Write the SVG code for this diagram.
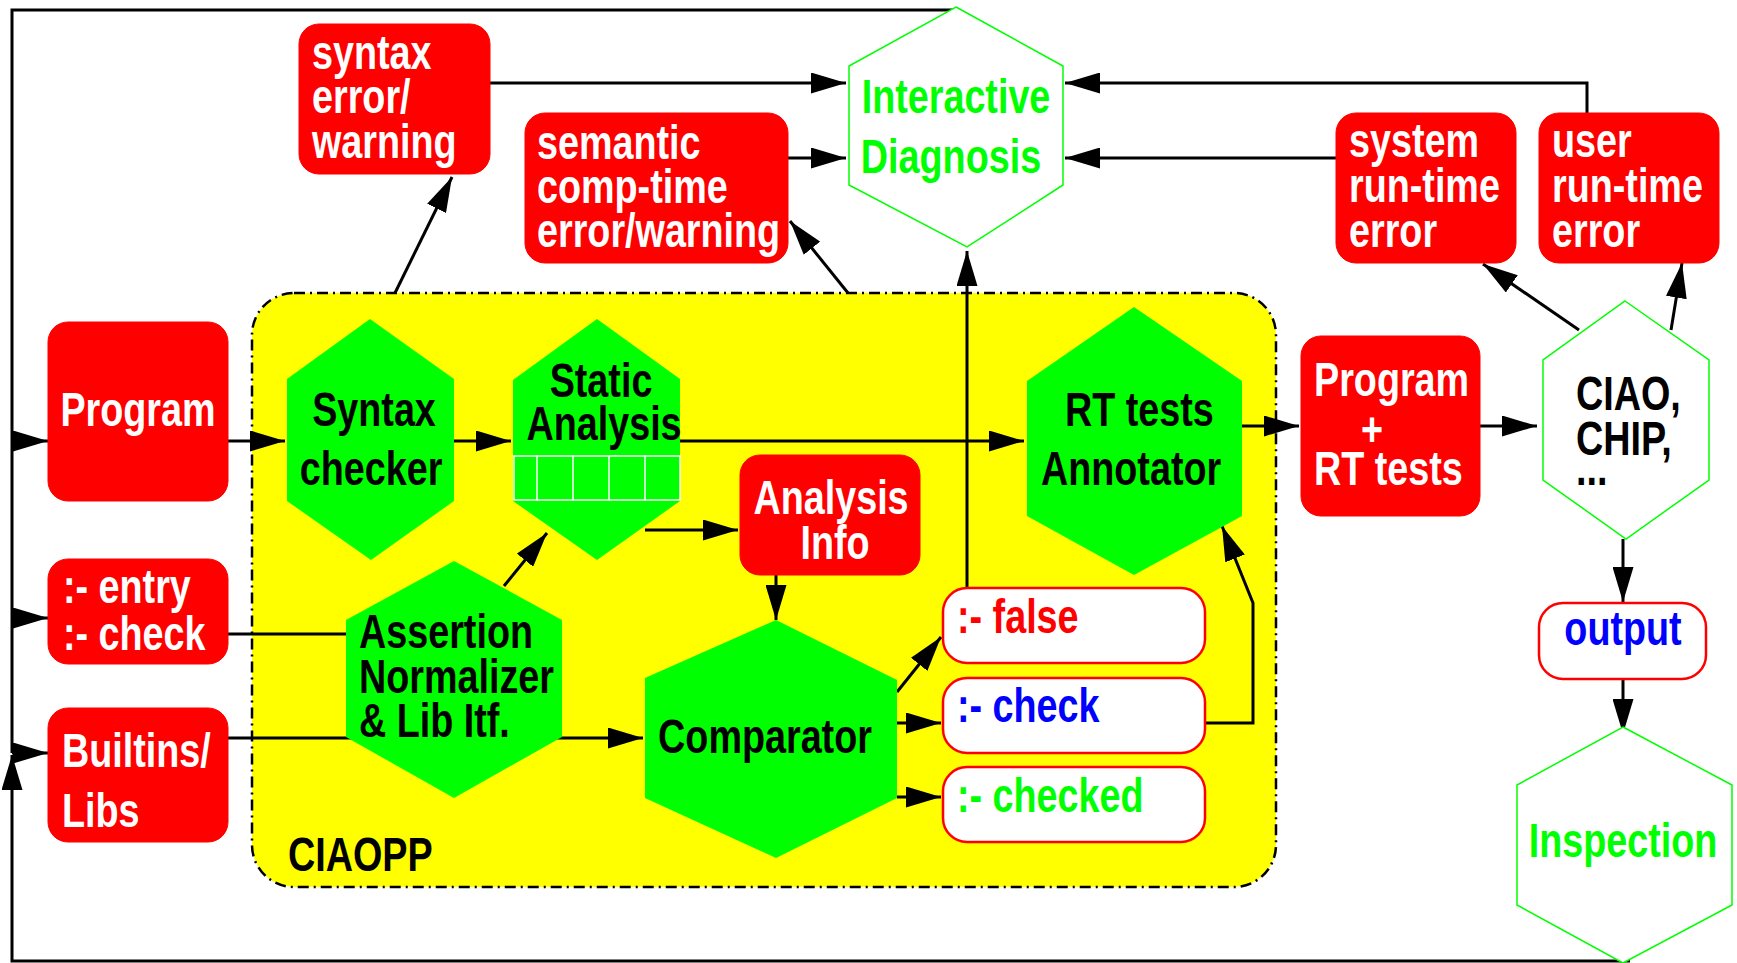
<svg xmlns="http://www.w3.org/2000/svg" width="1737" height="963" viewBox="0 0 1737 963">
<style>
.t{font-family:"Liberation Sans",Arial,sans-serif;font-weight:bold;font-size:49px}
.m{text-anchor:middle}
.w{fill:#ffffff}
.k{fill:#000000}
.g{fill:#00ff00}
.r{fill:#ff0000}
.b{fill:#0000ff}
.rbox{fill:#ff0000;stroke:#ff0000;stroke-width:1}
.obox{fill:#ffffff;stroke:#ff0000;stroke-width:2.5}
.ghex{fill:#00ff00;stroke:none}
.whex{fill:#ffffff;stroke:#00ff00;stroke-width:1.5}
.c{fill:none;stroke:#000000;stroke-width:3}
.ca{fill:none;stroke:#000000;stroke-width:3;marker-end:url(#ah)}
</style>
<defs>
<marker id="ah" markerUnits="userSpaceOnUse" viewBox="0 0 35 21" refX="35" refY="10.5" markerWidth="35" markerHeight="21" orient="auto">
<polygon points="0,0 35,10.5 0,21" fill="#000000"/>
</marker>
</defs>
<rect width="1737" height="963" fill="#ffffff"/>

<g id="ciaopp">
<rect x="252" y="293" width="1024" height="594" rx="42" ry="42" fill="#ffff00" stroke="#000000" stroke-width="2.5" stroke-dasharray="11 5 2 5"/>
<text class="t k" transform="translate(288 871) scale(0.77 1)">CIAOPP</text>
</g>

<g id="connectors">
<polyline class="c" points="956,10 12,10 12,753"/>
<line class="ca" x1="12" y1="441" x2="48" y2="441"/>
<line class="ca" x1="12" y1="618" x2="48" y2="618"/>
<line class="ca" x1="12" y1="753" x2="48" y2="753"/>
<polyline class="ca" points="1630,961 12,961 12,755"/>
<line class="ca" x1="228" y1="441" x2="285" y2="441"/>
<line class="ca" x1="454" y1="441" x2="511" y2="441"/>
<line class="ca" x1="680" y1="441" x2="1024" y2="441"/>
<line class="ca" x1="645" y1="530" x2="738" y2="530"/>
<line class="ca" x1="776" y1="575" x2="776" y2="620"/>
<line class="ca" x1="504" y1="586" x2="547" y2="533"/>
<line class="c" x1="228" y1="634" x2="346" y2="634"/>
<line class="ca" x1="228" y1="738" x2="643" y2="738"/>
<line class="ca" x1="897" y1="692" x2="941" y2="637"/>
<line class="ca" x1="897" y1="723" x2="941" y2="723"/>
<line class="ca" x1="897" y1="797" x2="941" y2="797"/>
<line class="ca" x1="967" y1="588" x2="967" y2="251"/>
<polyline class="ca" points="1205,723 1253,723 1253,603 1222,526"/>
<line class="ca" x1="1242" y1="426" x2="1299" y2="426"/>
<line class="ca" x1="1480" y1="426" x2="1537" y2="426"/>
<line class="ca" x1="1579" y1="330" x2="1483" y2="264"/>
<line class="ca" x1="1671" y1="330" x2="1682" y2="263"/>
<line class="ca" x1="1623" y1="539" x2="1623" y2="602"/>
<line class="ca" x1="1623" y1="679" x2="1623" y2="734"/>
<line class="ca" x1="490" y1="83" x2="846" y2="83"/>
<line class="ca" x1="788" y1="158" x2="846" y2="158"/>
<polyline class="ca" points="1587,113 1587,83 1065,83"/>
<line class="ca" x1="1336" y1="158" x2="1065" y2="158"/>
<line class="ca" x1="395" y1="293" x2="452" y2="177"/>
<line class="ca" x1="848" y1="293" x2="790" y2="221"/>
</g>

<g id="syntax-error">
<rect class="rbox" x="299" y="24" width="191" height="150" rx="20"/>
<text class="t w" transform="translate(312 69) scale(0.77 1)">syntax</text>
<text class="t w" transform="translate(312 113) scale(0.77 1)">error/</text>
<text class="t w" transform="translate(312 158) scale(0.77 1)">warning</text>
</g>

<g id="semantic-error">
<rect class="rbox" x="525" y="113" width="263" height="150" rx="20"/>
<text class="t w" transform="translate(537 159) scale(0.77 1)">semantic</text>
<text class="t w" transform="translate(537 203) scale(0.77 1)">comp-time</text>
<text class="t w" transform="translate(537 247) scale(0.77 1)">error/warning</text>
</g>

<g id="interactive-diagnosis">
<polygon class="whex" points="956,7 1063,66 1063,185 967,247 849,185 849,66"/>
<text class="t g m" transform="translate(956 113) scale(0.77 1)">Interactive</text>
<text class="t g m" transform="translate(951 173) scale(0.77 1)">Diagnosis</text>
</g>

<g id="system-error">
<rect class="rbox" x="1336" y="113" width="180" height="150" rx="20"/>
<text class="t w" transform="translate(1349 157) scale(0.77 1)">system</text>
<text class="t w" transform="translate(1349 202) scale(0.77 1)">run-time</text>
<text class="t w" transform="translate(1349 247) scale(0.77 1)">error</text>
</g>

<g id="user-error">
<rect class="rbox" x="1539" y="113" width="180" height="150" rx="20"/>
<text class="t w" transform="translate(1552 157) scale(0.77 1)">user</text>
<text class="t w" transform="translate(1552 202) scale(0.77 1)">run-time</text>
<text class="t w" transform="translate(1552 247) scale(0.77 1)">error</text>
</g>

<g id="program">
<rect class="rbox" x="48" y="322" width="180" height="179" rx="20"/>
<text class="t w m" transform="translate(138 426) scale(0.77 1)">Program</text>
</g>

<g id="entry-check">
<rect class="rbox" x="48" y="559" width="180" height="105" rx="20"/>
<text class="t w" transform="translate(63 603) scale(0.77 1)">:- entry</text>
<text class="t w" transform="translate(63 650) scale(0.77 1)">:- check</text>
</g>

<g id="builtins-libs">
<rect class="rbox" x="48" y="708" width="180" height="134" rx="20"/>
<text class="t w" transform="translate(62 767) scale(0.77 1)">Builtins/</text>
<text class="t w" transform="translate(62 827) scale(0.77 1)">Libs</text>
</g>

<g id="syntax-checker">
<polygon class="ghex" points="370,319 454,379 454,501 371,560 287,501 287,379"/>
<text class="t k m" transform="translate(374 426) scale(0.77 1)">Syntax</text>
<text class="t k m" transform="translate(371 485) scale(0.77 1)">checker</text>
</g>

<g id="static-analysis">
<polygon class="ghex" points="597,319 680,379 680,501 597,560 513,501 513,380"/>
<rect x="514" y="456" width="166" height="44" fill="none" stroke="#ffffff" stroke-width="1.5"/>
<path d="M537,456V500M573,456V500M609,456V500M645,456V500" stroke="#ffffff" stroke-width="1.5"/>
<text class="t k m" transform="translate(601 397) scale(0.77 1)">Static</text>
<text class="t k m" transform="translate(604 440) scale(0.77 1)">Analysis</text>
</g>

<g id="analysis-info">
<rect class="rbox" x="740" y="455" width="180" height="120" rx="20"/>
<text class="t w m" transform="translate(831 514) scale(0.77 1)">Analysis</text>
<text class="t w m" transform="translate(835 559) scale(0.77 1)">Info</text>
</g>

<g id="assertion-normalizer">
<polygon class="ghex" points="454,561 562,620 562,737 454,798 346,737 346,620"/>
<text class="t k" transform="translate(359 648) scale(0.77 1)">Assertion</text>
<text class="t k" transform="translate(359 693) scale(0.77 1)">Normalizer</text>
<text class="t k" transform="translate(359 737) scale(0.77 1)">&amp; Lib Itf.</text>
</g>

<g id="comparator">
<polygon class="ghex" points="776,620 897,680 897,798 776,858 645,798 645,678"/>
<text class="t k m" transform="translate(765 753) scale(0.77 1)">Comparator</text>
</g>

<g id="rt-annotator">
<polygon class="ghex" points="1134,307 1242,381 1242,516 1134,575 1027,516 1027,381"/>
<text class="t k" transform="translate(1065 426) scale(0.77 1)">RT tests</text>
<text class="t k" transform="translate(1041 485) scale(0.77 1)">Annotator</text>
</g>

<g id="false">
<rect class="obox" x="943" y="588" width="262" height="75" rx="24"/>
<text class="t r" transform="translate(957 633) scale(0.77 1)">:- false</text>
</g>

<g id="check">
<rect class="obox" x="943" y="678" width="262" height="75" rx="24"/>
<text class="t b" transform="translate(957 722) scale(0.77 1)">:- check</text>
</g>

<g id="checked">
<rect class="obox" x="943" y="767" width="262" height="75" rx="24"/>
<text class="t g" transform="translate(957 812) scale(0.77 1)">:- checked</text>
</g>

<g id="program-rt">
<rect class="rbox" x="1301" y="336" width="179" height="180" rx="20"/>
<text class="t w" transform="translate(1314 396) scale(0.77 1)">Program</text>
<text class="t w m" transform="translate(1372 446) scale(0.77 1)">+</text>
<text class="t w" transform="translate(1314 485) scale(0.77 1)">RT tests</text>
</g>

<g id="ciao-chip">
<polygon class="whex" points="1625,301 1709,360 1709,480 1626,539 1543,480 1543,360"/>
<text class="t k" transform="translate(1576 410) scale(0.77 1)">CIAO,</text>
<text class="t k" transform="translate(1576 455) scale(0.77 1)">CHIP,</text>
<text class="t k" transform="translate(1576 485) scale(0.77 1)">...</text>
</g>

<g id="output">
<rect class="obox" x="1539" y="603" width="167" height="76" rx="24"/>
<text class="t b m" transform="translate(1623 645) scale(0.77 1)">output</text>
</g>

<g id="inspection">
<polygon class="whex" points="1623,727 1732,785 1732,905 1623,963 1517,905 1517,785"/>
<text class="t g m" transform="translate(1623 857) scale(0.77 1)">Inspection</text>
</g>
</svg>
